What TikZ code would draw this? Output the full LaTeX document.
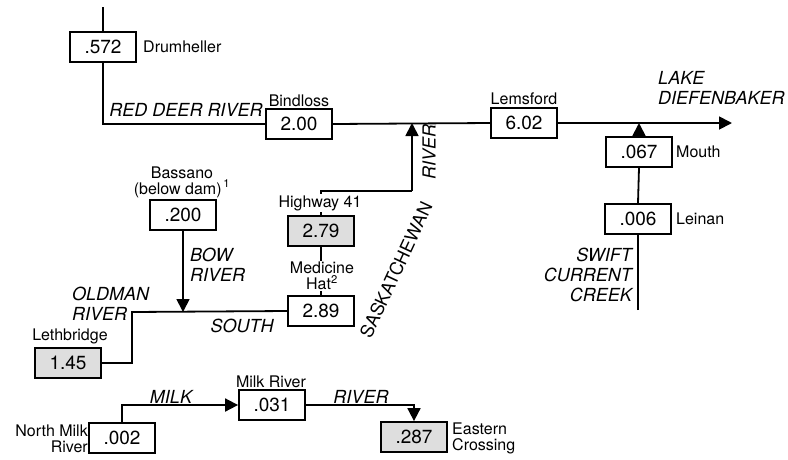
\documentclass[tikz,border=0pt]{standalone}
\usepackage{fontspec}
\setmainfont{TeX Gyre Heros}
\usetikzlibrary{arrows.meta}
\begin{document}
\begin{tikzpicture}[x=1pt,y=-1pt,
  valbox/.style={draw,line width=1.8pt,minimum width=66pt,minimum height=30pt,inner sep=0pt,font=\fontsize{19}{20}\selectfont,fill=white},
  gbox/.style={valbox,fill=black!13},
  lbl/.style={font=\fontsize{16}{16}\selectfont,inner sep=0pt},
  rlbl/.style={font=\fontsize{18}{20}\selectfont\itshape,inner sep=0pt},
  flow/.style={line width=1.8pt},
  arr/.style={flow,-{Triangle[length=13pt,width=13pt]}}]
\useasboundingbox (0,0) rectangle (788,459);
% boxes
\node[valbox] (drum) at (103,47) {.572};
\node[valbox] (bind) at (299,124) {2.00};
\node[valbox] (lems) at (524,123) {6.02};
\node[valbox] (mouth) at (639,152) {.067};
\node[valbox] (lein) at (638,219) {.006};
\node[gbox] (hwy) at (321,231) {2.79};
\node[valbox] (med) at (321,311) {2.89};
\node[valbox] (bass) at (183,215) {.200};
\node[gbox] (leth) at (68,363) {1.45};
\node[valbox] (nmilk) at (122,438) {.002};
\node[valbox] (milk) at (272,405) {.031};
\node[gbox] (east) at (414,437) {.287};
% coordinates
\coordinate (drumtop) at (103,7);
\coordinate (lake) at (732,123);
\coordinate (mouthjoin) at (639,123);
\coordinate (swiftend) at (638,310);
\coordinate (sasjoin) at (412,123);
\coordinate (hwycorner) at (321,191);
\coordinate (sascorner) at (412,191);
\coordinate (bowjoin) at (183,312);
\coordinate (oldcorner) at (132,312);
% connectors
\draw[flow] (drumtop) -- (drum.north);
\draw[flow] (drum.south) |- (bind.west);
\draw[flow] (bind.east) -- (lems.west);
\draw[arr] (lems.east) -- (lake);
\draw[flow] (swiftend) -- (lein.south);
\draw[flow] (lein.north) -- (mouth.south);
\draw[arr] (mouth.north) -- (mouthjoin);
\draw[flow] (med.north) -- (hwy.south);
\draw[flow] (hwy.north) -- (hwycorner) -- (sascorner);
\draw[arr] (sascorner) -- (sasjoin);
\draw[flow] (med.west) -- (oldcorner) |- (leth.east);
\draw[arr] (bass.south) -- (bowjoin);
\draw[arr] (nmilk.north) |- (milk.west);
\draw[arr] (milk.east) -| (east.north);
% labels
\node[lbl,anchor=west] (ldrum) at (143,47) {Drumheller};
\node[rlbl] (lred) at (186,110) {RED DEER RIVER};
\node[lbl] (lbind) at (299,101) {Bindloss};
\node[lbl] (llems) at (524,99) {Lemsford};
\node[rlbl,anchor=north west,align=left] (llake) at (658,71) {LAKE\\DIEFENBAKER};
\node[lbl,anchor=west] (lmouth) at (676,152) {Mouth};
\node[lbl,anchor=west] (llein) at (676,219) {Leinan};
\node[rlbl,anchor=east,align=right] (lswift) at (632,275) {SWIFT\\CURRENT\\CREEK};
\node[rlbl,rotate=90] (lriver) at (429,152) {RIVER};
\node[font=\fontsize{18}{20}\selectfont,inner sep=0pt,rotate=65] (lsask) at (396,270) {SASKATCHEWAN};
\node[lbl,fill=white,inner sep=1pt] (lhwy) at (320,203) {Highway 41};
\node[lbl,fill=white,inner sep=1pt,align=center] (lmed) at (322,276) {Medicine\\Hat\textsuperscript{2}};
\node[lbl,align=center] (lbass) at (182,182) {Bassano\\(below dam)\textsuperscript{\,1}};
\node[rlbl,anchor=west,align=left] (lbow) at (190,265) {BOW\\RIVER};
\node[rlbl,anchor=west,align=left] (lold) at (72,304) {OLDMAN\\RIVER};
\node[rlbl] (lsouth) at (242,326) {SOUTH};
\node[lbl] (lleth) at (70,336) {Lethbridge};
\node[rlbl] (lmilk1) at (171,397) {MILK};
\node[lbl] (lmilkr) at (271,382) {Milk River};
\node[rlbl] (lmilk2) at (361,397) {RIVER};
\node[lbl,anchor=east,align=right] (lnmilk) at (88,439) {North Milk\\River};
\node[lbl,anchor=west,align=left] (least) at (452,438) {Eastern\\Crossing};
\end{tikzpicture}
\end{document}
